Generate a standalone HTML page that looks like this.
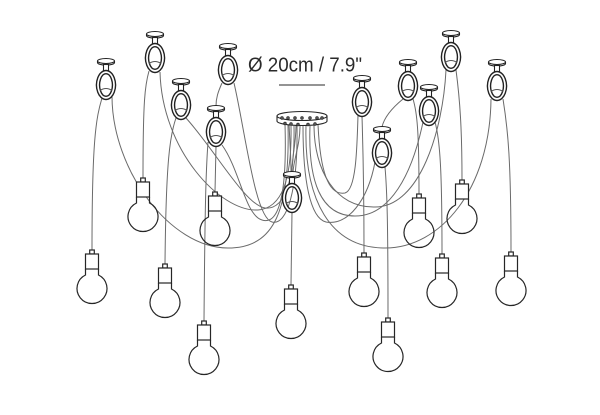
<!DOCTYPE html>
<html>
<head>
<meta charset="utf-8">
<style>
  html,body{margin:0;padding:0;background:#fff;}
  body{width:600px;height:415px;overflow:hidden;}
  svg{display:block;}
</style>
</head>
<body>
<svg width="600" height="415" viewBox="0 0 600 415" xmlns="http://www.w3.org/2000/svg">
  <defs>
    <g id="bulb" fill="none" stroke="#262626" stroke-width="1.2">
      <rect x="-2.3" y="-4" width="4.6" height="4" fill="#fff"/>
      <rect x="-6.5" y="0" width="13" height="15" fill="#fff"/>
      <path d="M-6.5,15 L-6.5,21 A15,15 0 1 0 6.5,21 L6.5,15"/>
    </g>
    <g id="hook" stroke="#222" stroke-width="1.1">
      <path d="M-8.5,0 L-8.5,1.6 A8.5,2.5 0 0 0 8.5,1.6 L8.5,0" fill="#fff"/>
      <ellipse cx="0" cy="0" rx="8.5" ry="2.5" fill="#fff"/>
      <rect x="-2.5" y="3.5" width="5" height="6.2" fill="#fff"/>
      <path d="M0,9.5 a9.5,14.5 0 1 0 0.001,0 Z M0,12.7 a6.4,11.3 0 1 1 -0.001,0 Z" fill="#fff" fill-rule="evenodd" stroke-width="1.4"/>
      <path d="M-6,29.5 Q0,25.5 6,29.5" fill="none" stroke="#555" stroke-width="0.9"/>
    </g>
  </defs>

  <!-- diameter label -->
  <text x="248" y="71.5" font-family="'Liberation Sans', 'DejaVu Sans', sans-serif" font-size="20" fill="#2a2a2a" textLength="114" lengthAdjust="spacingAndGlyphs">Ø 20cm / 7.9"</text>
  <line x1="279" y1="85" x2="325" y2="85" stroke="#555" stroke-width="1.3"/>

  <!-- cables -->
  <g fill="none" stroke="#6a6a6a" stroke-width="1">
    <!-- drops -->
    <path d="M102,98 C96,118 92,140 92,250"/>
    <path d="M149,71 C145,85 143,100 143,178"/>
    <path d="M176,118 C170,135 166,160 165,264"/>
    <path d="M222,83 C218,92 216,98 216,106"/>
    <path d="M216,146 L215,192"/>
    <path d="M208,142 C206,170 205,200 204,321"/>
    <path d="M292,212 L291,285"/>
    <path d="M362,116 C363,150 364,180 364,253"/>
    <path d="M385,167 C387,190 388,220 388,318"/>
    <path d="M413,99 C417,112 419,130 419,194"/>
    <path d="M403,99 C392,108 384,118 382,127"/>
    <path d="M456,70 C460,100 462,130 462,180"/>
    <path d="M435,122 C440,140 442,170 442,254"/>
    <path d="M503,99 C508,130 511,160 511,252"/>

    <!-- canopy to center hook -->
    <path d="M296,125 C296,145 292,155 292,172"/>
    <path d="M300,126 C300,145 294,158 293,172"/>
    <path d="M289,124 C290,145 291,158 291,172"/>

    <!-- left swoops -->
    <path d="M112,96 C112,170 170,248 228,248 C275,248 290,210 288,125"/>
    <path d="M160,72 C162,150 220,212 258,210 C282,208 292,180 291,126"/>
    <path d="M186,118 C215,150 245,205 265,208 C285,210 295,180 294,126"/>
    <path d="M234,83 C245,130 255,218 272,222 C287,226 298,190 297,126"/>
    <path d="M222,145 C240,170 245,215 262,220 C280,226 287,190 285,124"/>

    <!-- right swoops -->
    <path d="M358,115 C357,150 356,190 345,193 C328,196 320,170 318,124"/>
    <path d="M446,70 C443,130 420,207 375,207 C335,208 314,170 314,125"/>
    <path d="M423,122 C412,175 390,216 355,216 C320,216 308,180 310,126"/>
    <path d="M491,99 C490,190 440,248 385,248 C330,248 304,200 306,126"/>
    <path d="M375,162 C368,200 348,226 326,222 C310,218 303,180 303,126"/>
  </g>

  <!-- canopy -->
  <g stroke="#262626" stroke-width="1.1">
    <path d="M277,116 L277,121 A25,4.5 0 0 0 327,121 L327,116" fill="#fff"/>
    <ellipse cx="302" cy="116" rx="25" ry="4.5" fill="#fff"/>
  </g>
  <g fill="#555" stroke="#222" stroke-width="0.6">
    <circle cx="282" cy="118" r="1.4"/>
    <circle cx="288" cy="118" r="1.4"/>
    <circle cx="295" cy="118" r="1.4"/>
    <circle cx="302" cy="118" r="1.4"/>
    <circle cx="310" cy="118" r="1.4"/>
    <circle cx="317" cy="118" r="1.4"/>
    <circle cx="322" cy="118" r="1.4"/>
    <circle cx="285" cy="123.5" r="1.4"/>
    <circle cx="291" cy="124" r="1.4"/>
    <circle cx="298" cy="124.5" r="1.4"/>
    <circle cx="308" cy="124.5" r="1.4"/>
    <circle cx="315" cy="124" r="1.4"/>
  </g>

  <!-- hooks -->
  <use href="#hook" x="106" y="61"/>
  <use href="#hook" x="155" y="34"/>
  <use href="#hook" x="181" y="81"/>
  <use href="#hook" x="228" y="46"/>
  <use href="#hook" x="216" y="108"/>
  <use href="#hook" x="362" y="78"/>
  <use href="#hook" x="382" y="129"/>
  <use href="#hook" x="408" y="62"/>
  <use href="#hook" x="451" y="33"/>
  <use href="#hook" x="429" y="87"/>
  <use href="#hook" x="497" y="62"/>
  <use href="#hook" x="292" y="174"/>

  <!-- bulbs -->
  <use href="#bulb" x="92" y="254"/>
  <use href="#bulb" x="143" y="182"/>
  <use href="#bulb" x="165" y="268"/>
  <use href="#bulb" x="215" y="196"/>
  <use href="#bulb" x="204" y="325"/>
  <use href="#bulb" x="291" y="289"/>
  <use href="#bulb" x="364" y="257"/>
  <use href="#bulb" x="388" y="322"/>
  <use href="#bulb" x="419" y="198"/>
  <use href="#bulb" x="462" y="184"/>
  <use href="#bulb" x="442" y="258"/>
  <use href="#bulb" x="511" y="256"/>
</svg>
</body>
</html>
